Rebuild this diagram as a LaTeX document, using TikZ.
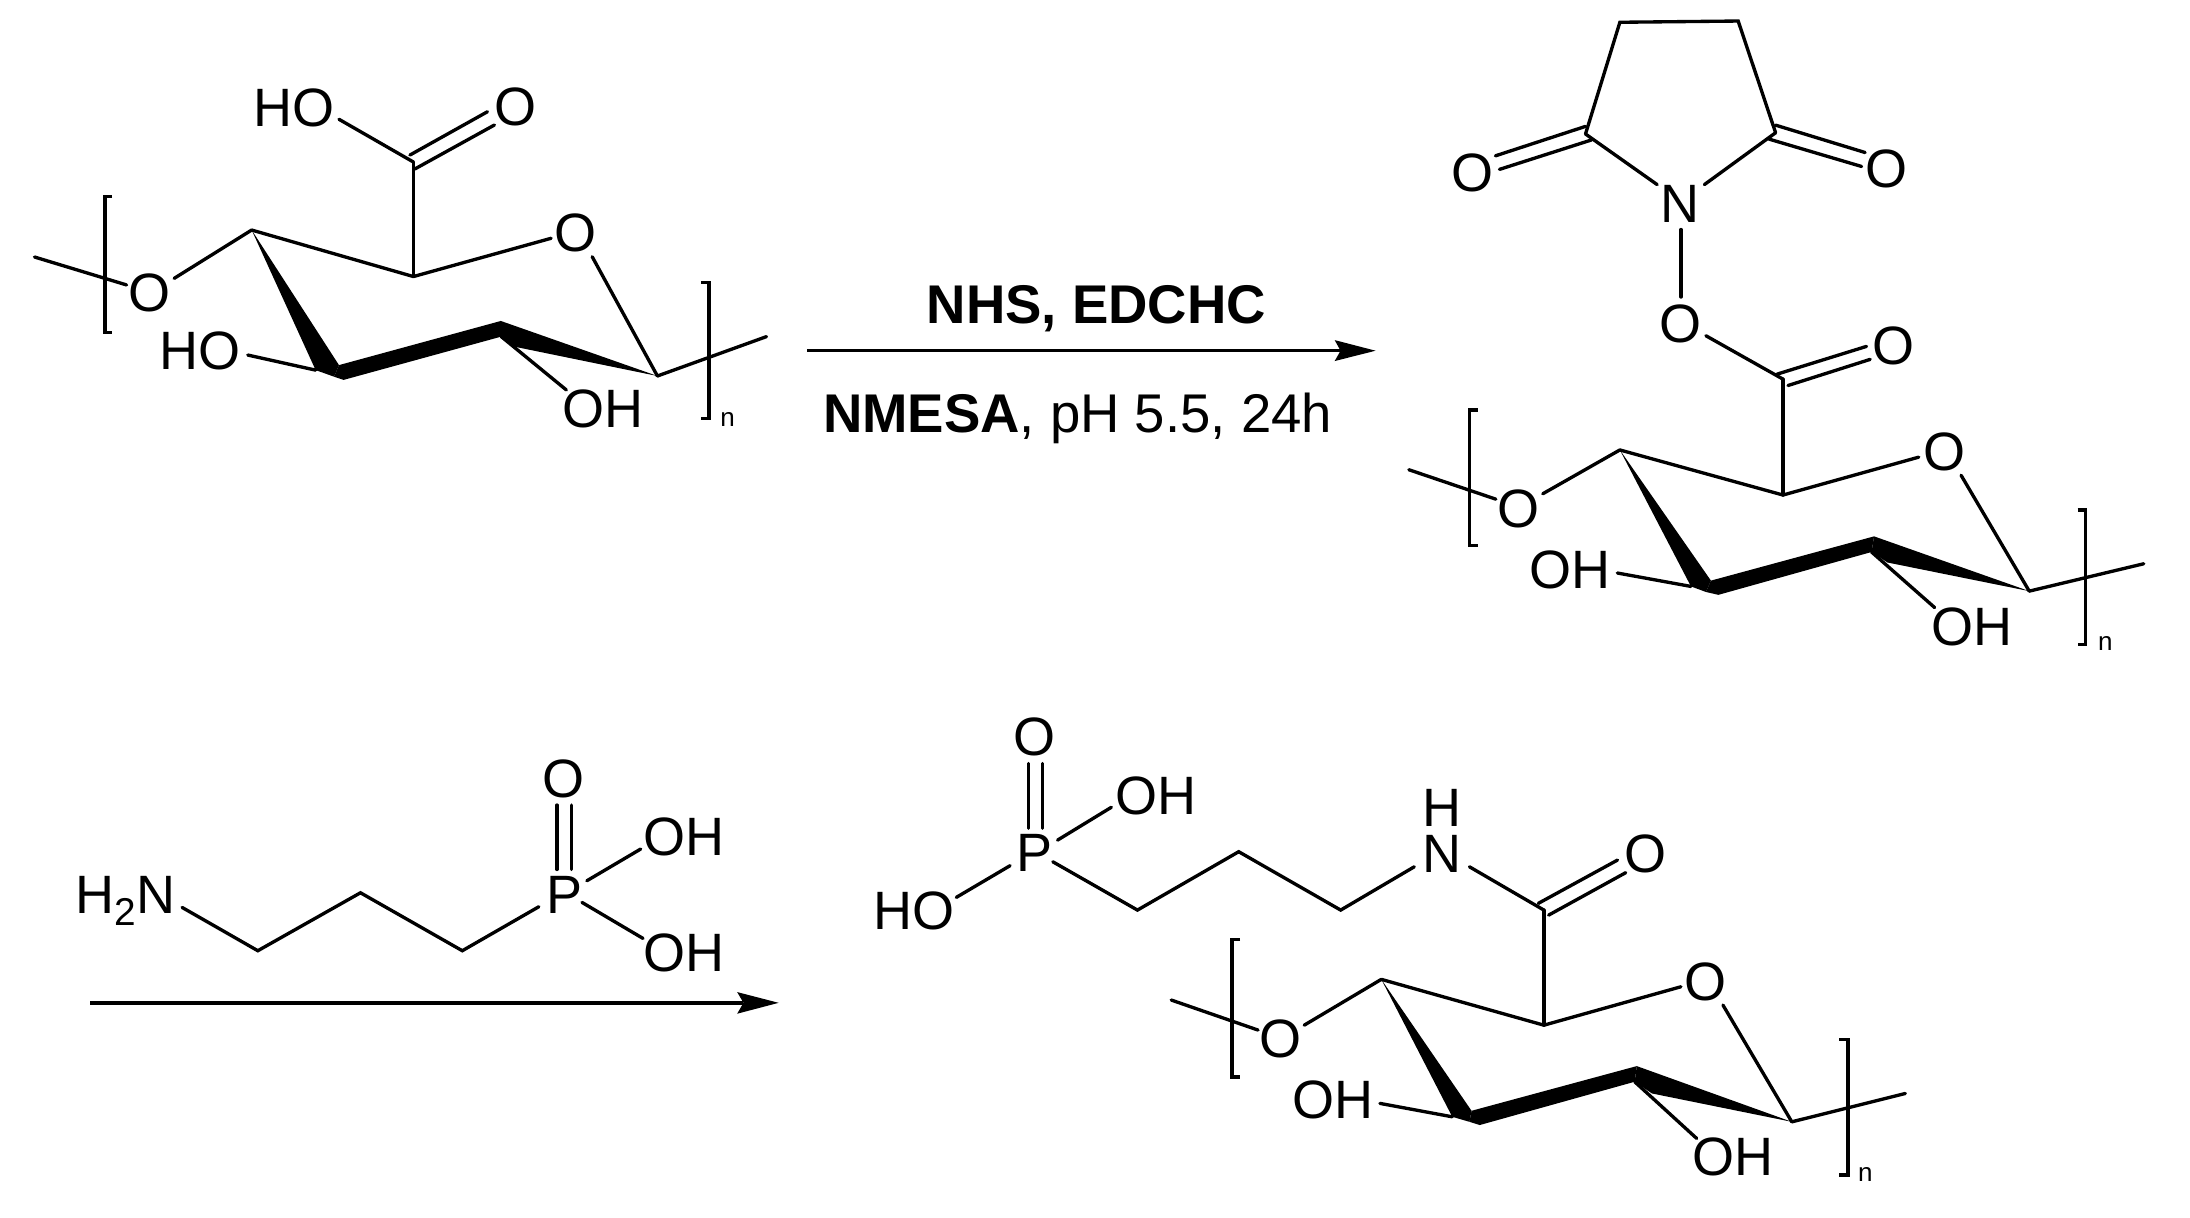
\documentclass[tikz,border=0pt]{standalone}
\usepackage{fontspec}
\setmainfont{Liberation Sans}
\tikzset{
  atom/.style={inner sep=0pt,outer sep=0pt,font=\fontsize{11}{13}\selectfont},
  label/.style={inner sep=0pt,outer sep=0pt,anchor=base,font=\fontsize{11.1}{13}\selectfont},
  rep/.style={inner sep=0pt,outer sep=0pt,anchor=base,font=\fontsize{5.3}{6}\selectfont},
  bond/.style={line width=0.68pt,line cap=round,line join=miter},
  bracket/.style={line width=0.72pt,line join=miter},
  wedge/.style={fill=black,draw=none},
  rxn/.style={line width=0.72pt}
}
\begin{document}
\begin{tikzpicture}[x=0.01cm,y=-0.01cm]
\useasboundingbox (0,0) rectangle (1568,872);
%% ---------- structure 1
\node[atom] (aHO) at (210.5,77) {HO};
\node[atom] (aO) at (369,76.5) {O};
\node[atom] (aOr) at (412.4,166.6) {O};
\node[atom] (aOl) at (107.4,210) {O};
\node[atom] (aHOl) at (143.4,251.3) {HO};
\node[atom] (aOH) at (431.8,292.4) {OH};
\node[rep] (an) at (521,305) {n};
\coordinate (a1) at (296,116);
\coordinate (a2) at (296,198);
\coordinate (a3) at (180.2,164.7);
\coordinate (a4) at (242.7,261.4);
\coordinate (a4l) at (226,265);
\coordinate (a4c) at (239.2,269.7);
\coordinate (a4r) at (246,272);
\coordinate (a5) at (358.6,229.8);
\coordinate (a5b) at (358.9,241);
\coordinate (a5c) at (368.3,248.2);
\coordinate (a6) at (470.7,269.2);
\coordinate (aT1) at (24.7,184);
\coordinate (aT2) at (548.8,241);
\draw[bond] ([shift={(32.2,8.4)}]aHO.center) -- (a1);
\draw[bond] ([shift={(-2.5,-5)}]a1.center) -- ([shift={(-20,3.5)}]aO.center);
\draw[bond] ([shift={(1,5)}]a1.center) -- ([shift={(-15,13)}]aO.center);
\draw[bond] (a1) -- (a2);
\draw[bond] (a2) -- ([shift={(-17.8,4)}]aOr.center);
\draw[bond] ([shift={(11.6,17.2)}]aOr.center) -- (a6);
\draw[bond] (a6) -- (aT2);
\draw[bond] (a3) -- (a2);
\draw[bond] (a3) -- ([shift={(17.3,-10.7)}]aOl.center);
\draw[bond] (aT1) -- ([shift={(-16.8,-6)}]aOl.center);
\fill[wedge] (a3) -- (a4l) -- (a4c) -- (a4) -- cycle;
\fill[wedge] (a4) -- (a5) -- (a5b) -- (a4r) -- (a4c) -- cycle;
\fill[wedge] (a5) -- (a6) -- (a5c) -- (a5b) -- cycle;
\draw[bond] ([shift={(34,2.9)}]aHOl.center) -- (a4l);
\draw[bond] (a5b) -- ([shift={(-26.3,-13.2)}]aOH.center);
\draw[bracket] (80.2,140.8) -- (75,140.8) -- (75,238.2) -- (80.2,238.2);
\draw[bracket] (502,202.4) -- (507.8,202.4) -- (507.8,299.5) -- (502,299.5);
%% ---------- reaction arrow 1
\node[label,font=\fontsize{11.1}{13}\selectfont\bfseries] (t1) at (785,231.6) {NHS, EDCHC};
\node[label] (t2) at (771.5,309.6) {\textbf{NMESA}, pH 5.5, 24h};
\coordinate (r1s) at (578.1,251.1);
\coordinate (r1e) at (984.9,251.1);
\coordinate (r1u) at (955.6,243.5);
\coordinate (r1n) at (959.8,251.1);
\coordinate (r1d) at (955.6,258.5);
\draw[rxn] (r1s) -- (r1n);
\fill[wedge] (r1e) -- (r1u) -- (r1n) -- (r1d) -- cycle;
%% ---------- structure 2
\begin{scope}[yscale=0.99]
\node[atom] (bN) at (1202.9,147.6) {N};
\node[atom] (bOl) at (1054.3,124.9) {O};
\node[atom] (bOr) at (1350.7,122.5) {O};
\node[atom] (bOx) at (1202.9,234) {O};
\node[atom] (bO2) at (1355.7,250.5) {O};
\node[atom] (bOr2) at (1392.4,326.6) {O};
\node[atom] (bOl2) at (1087.1,367.8) {O};
\node[atom] (bOHl) at (1124.1,412.3) {OH};
\node[atom] (bOHb) at (1412,453.4) {OH};
\node[rep] (bn) at (1507.4,470.7) {n};
\coordinate (c1) at (1159.8,16.1);
\coordinate (c2) at (1244.5,15.2);
\coordinate (c3) at (1135.2,96.9);
\coordinate (c4) at (1271.3,96);
\coordinate (d1) at (1276.6,274.2);
\coordinate (d2) at (1276.6,358);
\coordinate (d3) at (1159.8,325.4);
\coordinate (d4) at (1225,419.9);
\coordinate (d4l) at (1210.7,424.1);
\coordinate (d4c) at (1221.4,428.1);
\coordinate (d4r) at (1230.3,430.2);
\coordinate (d5) at (1341.8,387.9);
\coordinate (d5b) at (1340,399.2);
\coordinate (d5c) at (1351.4,406.8);
\coordinate (d6) at (1452.9,427.5);
\coordinate (dT1) at (1008.7,339.7);
\coordinate (dT2) at (1534.9,407.7);
\draw[bond] (c3) -- (c1) -- (c2) -- (c4);
\draw[bond] (c3) -- ([shift={(-16.4,-14.1)}]bN.center);
\draw[bond] (c4) -- ([shift={(17.4,-14.1)}]bN.center);
\draw[bond] ([shift={(0,-5.5)}]c3.center) -- ([shift={(16.4,-12.2)}]bOl.center);
\draw[bond] ([shift={(4.3,4.3)}]c3.center) -- ([shift={(19.3,-2.4)}]bOl.center);
\draw[bond] ([shift={(0,-5.5)}]c4.center) -- ([shift={(-15.3,-12.2)}]bOr.center);
\draw[bond] ([shift={(-4.7,4.6)}]c4.center) -- ([shift={(-17.8,-2.1)}]bOr.center);
\draw[bond] ([shift={(0.7,18.4)}]bN.center) -- ([shift={(0.7,-19.2)}]bOx.center);
\draw[bond] ([shift={(18.5,8.8)}]bOx.center) -- (d1);
\draw[bond] ([shift={(-4.3,-3.6)}]d1.center) -- ([shift={(-19.3,0)}]bO2.center);
\draw[bond] ([shift={(3.6,4.6)}]d1.center) -- ([shift={(-16.7,9.4)}]bO2.center);
\draw[bond] (d1) -- (d2);
\draw[bond] (d2) -- ([shift={(-18.6,4)}]bOr2.center);
\draw[bond] (d3) -- (d2);
\draw[bond] (d3) -- ([shift={(17.5,-10.7)}]bOl2.center);
\draw[bond] (dT1) -- ([shift={(-16.1,-6.8)}]bOl2.center);
\draw[bond] ([shift={(11.7,17.1)}]bOr2.center) -- (d6);
\draw[bond] (d6) -- (dT2);
\fill[wedge] (d3) -- (d4l) -- (d4c) -- (d4) -- cycle;
\fill[wedge] (d4) -- (d5) -- (d5b) -- (d4r) -- (d4c) -- cycle;
\fill[wedge] (d5) -- (d6) -- (d5c) -- (d5b) -- cycle;
\draw[bond] ([shift={(33.9,2.1)}]bOHl.center) -- (d4l);
\draw[bond] (d5b) -- ([shift={(-26.8,-14)}]bOHb.center);
\draw[bracket] (1058.2,296.5) -- (1052.2,296.5) -- (1052.2,394.6) -- (1058.2,394.6);
\draw[bracket] (1487.5,368.7) -- (1493.2,368.7) -- (1493.2,466.2) -- (1487.5,466.2);
\end{scope}
%% ---------- aminopropylphosphonic acid
\node[atom,anchor=base west] (eNH) at (54,654) {H\raisebox{-2.4pt}{\fontsize{7.9}{9}\selectfont 2}N};
\node[atom] (eP) at (403.9,640.8) {P};
\node[atom] (eO) at (403.2,557.8) {O};
\node[atom] (eOH1) at (489.6,599) {OH};
\node[atom] (eOH2) at (489.6,681.9) {OH};
\coordinate (e1) at (184.6,680.7);
\coordinate (e2) at (258.1,639.2);
\coordinate (e3) at (331,680.7);
\draw[bond] ([shift={(76.4,-4.3)}]eNH.base west) -- (e1) -- (e2) -- (e3) -- ([shift={(-18.1,8.4)}]eP.center);
\draw[bond] ([shift={(-5.2,-18.3)}]eP.center) -- ([shift={(-4.5,18.6)}]eO.center);
\draw[bond] ([shift={(5.2,-18.3)}]eP.center) -- ([shift={(5.9,18.6)}]eO.center);
\draw[bond] ([shift={(16.3,-10.2)}]eP.center) -- ([shift={(-30.9,8.9)}]eOH1.center);
\draw[bond] ([shift={(12.8,5.3)}]eP.center) -- ([shift={(-29.2,-10)}]eOH2.center);
%% ---------- reaction arrow 2
\coordinate (r2s) at (64.5,718);
\coordinate (r2e) at (557.5,718);
\coordinate (r2u) at (527.8,710.3);
\coordinate (r2n) at (532.3,718);
\coordinate (r2d) at (527.8,725.8);
\draw[rxn] (r2s) -- (r2n);
\fill[wedge] (r2e) -- (r2u) -- (r2n) -- (r2d) -- cycle;
%% ---------- structure 4
\node[atom] (fP) at (740.5,611) {P};
\node[atom] (fO) at (740.5,527.5) {O};
\node[atom] (fOH1) at (827.7,570) {OH};
\node[atom] (fHO) at (654.2,652) {HO};
\node[atom] (fN) at (1032.4,611.5) {N};
\node[atom] (fH) at (1032.4,578.8) {H};
\node[atom] (fO2) at (1177.8,611.5) {O};
\node[atom] (fOr) at (1221.2,702.9) {O};
\node[atom] (fOl) at (916.5,743.5) {O};
\node[atom] (fOHl) at (954.5,787.6) {OH};
\node[atom] (fOHb) at (1241,828.2) {OH};
\node[rep] (fn) at (1335.6,846) {n};
\coordinate (g1) at (814.4,651.6);
\coordinate (g2) at (886.9,609.8);
\coordinate (g3) at (959.9,651.6);
\coordinate (h1) at (1105.4,651.6);
\coordinate (h2) at (1105.4,734);
\coordinate (h3) at (989,701.2);
\coordinate (h4) at (1053.6,795.3);
\coordinate (h4l) at (1039.8,799.6);
\coordinate (h4c) at (1052.1,803.2);
\coordinate (h4r) at (1059.5,805.5);
\coordinate (h5) at (1171.9,763.3);
\coordinate (h5b) at (1170.4,774.5);
\coordinate (h5c) at (1182.8,782.9);
\coordinate (h6) at (1282.9,803.2);
\coordinate (hT1) at (838.6,716);
\coordinate (hT2) at (1364.2,782.9);
\draw[bond] ([shift={(-4,-18)}]fP.center) -- ([shift={(-4,19.1)}]fO.center);
\draw[bond] ([shift={(5.9,-18)}]fP.center) -- ([shift={(5.9,19.1)}]fO.center);
\draw[bond] ([shift={(16.7,-9.5)}]fP.center) -- ([shift={(-32,8)}]fOH1.center);
\draw[bond] ([shift={(-17.3,8.8)}]fP.center) -- ([shift={(30.5,-9.5)}]fHO.center);
\draw[bond] ([shift={(13.3,6)}]fP.center) -- (g1) -- (g2) -- (g3) -- ([shift={(-19.8,9.1)}]fN.center);
\draw[bond] ([shift={(19.7,9.1)}]fN.center) -- (h1);
\draw[bond] ([shift={(-4,-4.8)}]h1.center) -- ([shift={(-19.7,4.3)}]fO2.center);
\draw[bond] ([shift={(3.4,3.6)}]h1.center) -- ([shift={(-13.8,13.3)}]fO2.center);
\draw[bond] (h1) -- (h2);
\draw[bond] (h2) -- ([shift={(-17.7,3.6)}]fOr.center);
\draw[bond] (h3) -- (h2);
\draw[bond] (h3) -- ([shift={(17.3,-9.5)}]fOl.center);
\draw[bond] (hT1) -- ([shift={(-15.8,-6)}]fOl.center);
\draw[bond] ([shift={(12.4,16.7)}]fOr.center) -- (h6);
\draw[bond] (h6) -- (hT2);
\fill[wedge] (h3) -- (h4l) -- (h4c) -- (h4) -- cycle;
\fill[wedge] (h4) -- (h5) -- (h5b) -- (h4r) -- (h4c) -- cycle;
\fill[wedge] (h5) -- (h6) -- (h5c) -- (h5b) -- cycle;
\draw[bond] ([shift={(33.5,2.4)}]fOHl.center) -- (h4l);
\draw[bond] (h5b) -- ([shift={(-26.2,-13.1)}]fOHb.center);
\draw[bracket] (887.9,672.6) -- (882,672.6) -- (882,771) -- (887.9,771);
\draw[bracket] (1316.9,744.2) -- (1323.3,744.2) -- (1323.3,841.4) -- (1316.9,841.4);
\end{tikzpicture}
\end{document}
